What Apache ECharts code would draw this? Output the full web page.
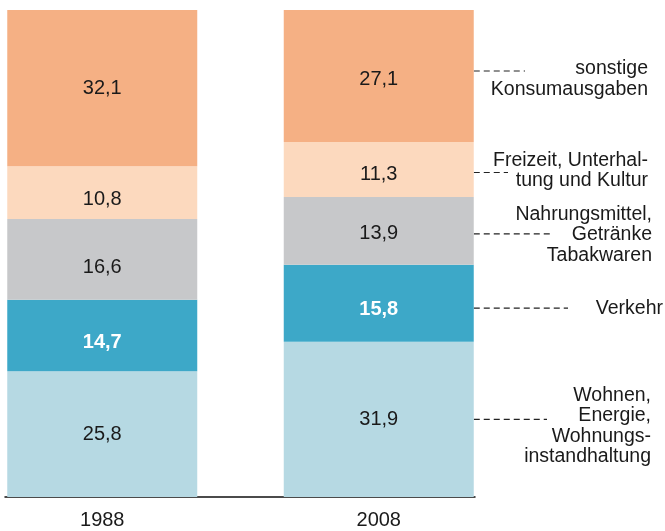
<!DOCTYPE html>
<html>
<head>
<meta charset="utf-8">
<script src="https://cdn.jsdelivr.net/npm/echarts@6/dist/echarts.min.js"></script>
<style>
html,body{margin:0;padding:0;background:#fff;}
#chart{width:665px;height:531px;}
</style>
</head>
<body>
<div id="chart"></div>
<script>
// ---- data ----
var categories = ['1988', '2008'];
var seriesNames = [
  'Wohnen, Energie, Wohnungsinstandhaltung',
  'Verkehr',
  'Nahrungsmittel, Getränke, Tabakwaren',
  'Freizeit, Unterhaltung und Kultur',
  'sonstige Konsumausgaben'
];
var wohnen = [25.8, 31.9];
var verkehr = [14.7, 15.8];
var nahrung = [16.6, 13.9];
var freizeit = [10.8, 11.3];
var sonstige = [32.1, 27.1];
var annotationTexts = [
  'Wohnen,\nEnergie,\nWohnungs-\ninstandhaltung',
  'Verkehr',
  'Nahrungsmittel,\nGetränke\nTabakwaren',
  'Freizeit, Unterhal-\ntung und Kultur',
  'sonstige\nKonsumausgaben'
];

// ---- styles ----
var colors = ['#B6D9E3', '#3DA8C8', '#C7C8CA', '#FCD9BE', '#F5B084'];
var labelColors = ['#1a1a1a', '#ffffff', '#1a1a1a', '#1a1a1a', '#1a1a1a'];
var labelWeights = ['normal', 'bold', 'normal', 'normal', 'normal'];
// vertical label nudges in pixels, per series: [1988, 2008]
var labelNudge = [[0, 0], [7, 6], [8, 3], [7, 5], [0, 3]];
var BAR_W = 190;
var FONT = 'Liberation Sans, Arial, Helvetica, sans-serif';
// annotation layout (pixels): line offset from segment middle, line end x, text right x, text offset from line
var annLayout = [
  {dy: 0, lineEnd: 547, textRight: 651, textDy: 7},
  {dy: 5, lineEnd: 568, textRight: 663, textDy: 0},
  {dy: 3, lineEnd: 550, textRight: 652, textDy: 1},
  {dy: 3, lineEnd: 508, textRight: 648, textDy: -2},
  {dy: -5, lineEnd: 525, textRight: 648, textDy: 8}
];

var seriesValues = [wohnen, verkehr, nahrung, freizeit, sonstige];

function fmt(v) { return v.toFixed(1).replace('.', ','); }

var series = seriesValues.map(function (vals, i) {
  return {
    name: seriesNames[i],
    type: 'bar',
    stack: 'total',
    barWidth: BAR_W,
    xAxisIndex: 0,
    yAxisIndex: 0,
    data: vals.map(function (v, j) {
      return {value: v, label: {offset: [0, labelNudge[i][j]]}};
    }),
    itemStyle: {color: colors[i]},
    label: {
      show: true,
      position: 'inside',
      formatter: function (p) { return fmt(p.value); },
      color: labelColors[i],
      fontWeight: labelWeights[i],
      fontSize: 20,
      fontFamily: FONT
    },
    emphasis: {disabled: true},
    silent: true
  };
});

// annotation points: middle of each 2008 segment
var annData = [];
var cum = 0;
seriesValues.forEach(function (vals, i) {
  annData.push([1, cum + vals[1] / 2, i]);
  cum += vals[1];
});

series.push({
  type: 'custom',
  xAxisIndex: 0,
  yAxisIndex: 0,
  clip: false,
  silent: true,
  data: annData,
  encode: {x: 0, y: 1},
  renderItem: function (params, api) {
    var i = api.value(2);
    var lay = annLayout[i];
    var pt = api.coord([api.value(0), api.value(1)]);
    var x0 = pt[0] + BAR_W / 2;
    var y = pt[1] + lay.dy;
    return {
      type: 'group',
      children: [
        {
          type: 'line',
          shape: {x1: x0, y1: y, x2: lay.lineEnd, y2: y},
          style: {stroke: '#222', lineWidth: 1.2, lineDash: [6, 4]}
        },
        {
          type: 'text',
          x: lay.textRight,
          y: y + lay.textDy,
          style: {
            text: annotationTexts[i],
            fill: '#1a1a1a',
            font: '19.5px ' + FONT,
            align: 'right',
            verticalAlign: 'middle',
            lineHeight: 20.5
          }
        }
      ]
    };
  }
});

var chart = echarts.init(document.getElementById('chart'), null, {renderer: 'canvas'});
chart.setOption({
  animation: false,
  backgroundColor: '#ffffff',
  grid: [
    {left: -36, width: 553, top: 10, bottom: 34, containLabel: false, outerBoundsMode: 'none'},
    {left: 5, width: 470, top: 10, bottom: 34, containLabel: false, outerBoundsMode: 'none'}
  ],
  xAxis: [
    {
      type: 'category',
      gridIndex: 0,
      data: categories,
      axisLine: {show: false},
      axisTick: {show: false},
      axisLabel: {
        show: true,
        margin: 13,
        color: '#1a1a1a',
        fontSize: 20,
        fontFamily: FONT
      }
    },
    {
      type: 'value',
      gridIndex: 1,
      min: 0,
      max: 1,
      axisLine: {show: true, lineStyle: {color: '#111', width: 1.5}},
      axisTick: {show: false},
      axisLabel: {show: false},
      splitLine: {show: false}
    }
  ],
  yAxis: [
    {type: 'value', gridIndex: 0, min: 0, max: 100, show: false},
    {type: 'value', gridIndex: 1, min: 0, max: 1, show: false}
  ],
  series: series
});
</script>
</body>
</html>
